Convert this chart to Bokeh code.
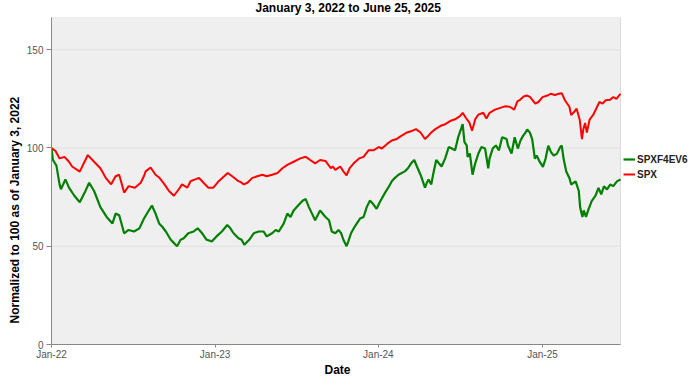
import pandas as pd
from bokeh.plotting import figure
from bokeh.models import (Range1d, FixedTicker, DatetimeTickFormatter, Legend, LegendItem,
                          ColumnDataSource, Title, BoxAnnotation)
from bokeh.embed import file_html
from bokeh.resources import INLINE

chart_title = "January 3, 2022 to June 25, 2025"
x_label = "Date"
y_label = "Normalized to 100 as of January 3, 2022"
series_names = ["SPXF4EV6", "SPX"]

spx_dates = [
    "2022-01-03", "2022-01-12", "2022-01-21", "2022-02-01", "2022-02-11", "2022-02-18",
    "2022-03-07", "2022-03-25", "2022-04-08", "2022-04-22", "2022-05-04", "2022-05-16",
    "2022-05-26", "2022-06-03", "2022-06-14", "2022-06-24", "2022-07-08", "2022-07-21",
    "2022-07-28", "2022-08-01", "2022-08-12", "2022-08-23", "2022-08-31", "2022-09-12",
    "2022-09-22", "2022-10-03", "2022-10-14", "2022-10-21", "2022-11-02", "2022-11-09",
    "2022-11-18", "2022-11-28", "2022-12-08", "2022-12-19", "2022-12-30", "2023-01-11",
    "2023-01-23", "2023-01-31", "2023-02-10", "2023-02-24", "2023-03-01", "2023-03-08",
    "2023-03-16", "2023-03-27", "2023-04-07", "2023-04-18", "2023-04-28", "2023-05-10",
    "2023-05-22", "2023-06-02", "2023-06-13", "2023-06-27", "2023-07-12", "2023-07-24",
    "2023-08-03", "2023-08-14", "2023-08-25", "2023-09-06", "2023-09-18", "2023-09-22",
    "2023-09-28", "2023-10-09", "2023-10-16", "2023-10-23", "2023-10-30", "2023-11-08",
    "2023-11-20", "2023-11-30", "2023-12-11", "2023-12-22", "2024-01-03", "2024-01-10",
    "2024-01-22", "2024-02-01", "2024-02-12", "2024-02-23", "2024-03-06", "2024-03-18",
    "2024-03-26", "2024-04-05", "2024-04-15", "2024-04-23", "2024-04-29", "2024-05-08",
    "2024-05-20", "2024-05-30", "2024-06-10", "2024-06-21", "2024-07-02", "2024-07-08",
    "2024-07-15", "2024-07-23", "2024-07-29", "2024-08-05", "2024-08-12", "2024-08-23",
    "2024-08-30", "2024-09-06", "2024-09-18", "2024-09-30", "2024-10-10", "2024-10-21",
    "2024-10-31", "2024-11-07", "2024-11-13", "2024-11-21", "2024-11-28", "2024-12-05",
    "2024-12-17", "2024-12-24", "2025-01-02", "2025-01-13", "2025-01-20", "2025-01-30",
    "2025-02-07", "2025-02-14", "2025-02-21", "2025-03-03", "2025-03-07", "2025-03-14",
    "2025-03-19", "2025-03-26", "2025-03-31", "2025-04-03", "2025-04-07", "2025-04-11",
    "2025-04-17", "2025-04-25", "2025-05-02", "2025-05-09", "2025-05-16", "2025-05-23",
    "2025-06-02", "2025-06-09", "2025-06-16", "2025-06-25",
]
spx_values = [
    100.0, 98.5, 94.7, 95.5, 93.0, 90.6,
    88.0, 96.4, 93.0, 89.7, 84.8, 81.5,
    85.6, 86.4, 77.3, 80.6, 79.8, 82.3,
    85.6, 88.1, 90.1, 86.4, 85.0, 81.5,
    78.1, 75.7, 79.0, 81.5, 79.8, 83.1,
    83.9, 84.8, 82.3, 79.8, 79.8, 83.1,
    85.6, 87.3, 85.6, 83.1, 82.6, 81.5,
    82.3, 84.8, 85.6, 86.4, 85.6, 86.4,
    87.3, 89.7, 91.4, 93.0, 94.7, 95.5,
    93.9, 92.2, 93.9, 93.4, 89.7, 90.6,
    88.9, 90.6, 88.1, 86.1, 89.7, 92.2,
    94.7, 95.5, 98.8, 98.8, 100.5, 99.7,
    102.2, 103.8, 104.6, 106.3, 107.9, 108.8,
    109.6, 107.9, 104.6, 106.3, 107.9, 109.6,
    111.3, 112.1, 113.7, 114.6, 116.2, 117.9,
    115.4, 112.9, 108.8, 114.6, 117.0, 117.9,
    115.0, 117.9, 119.5, 120.4, 121.2, 121.0,
    119.5, 123.7, 124.5, 126.2, 126.7, 126.0,
    122.6, 123.4, 125.9, 126.7, 127.6, 127.0,
    127.6, 127.9, 124.3, 121.0, 116.8, 118.4,
    120.1, 114.4, 104.5, 109.4, 112.7, 107.8,
    114.4, 116.8, 120.1, 123.4, 122.6, 124.3,
    124.6, 125.9, 125.0, 127.6,
]

f4_dates = [
    "2022-01-03", "2022-01-06", "2022-01-10", "2022-01-14", "2022-01-21", "2022-01-24",
    "2022-02-03", "2022-02-11", "2022-02-23", "2022-03-07", "2022-03-18", "2022-03-28",
    "2022-04-08", "2022-04-22", "2022-05-06", "2022-05-19", "2022-05-26", "2022-06-03",
    "2022-06-14", "2022-06-24", "2022-07-06", "2022-07-18", "2022-07-28", "2022-08-08",
    "2022-08-15", "2022-08-23", "2022-08-31", "2022-09-07", "2022-09-15", "2022-09-26",
    "2022-10-03", "2022-10-10", "2022-10-18", "2022-10-25", "2022-11-04", "2022-11-16",
    "2022-11-25", "2022-12-05", "2022-12-15", "2022-12-27", "2023-01-06", "2023-01-18",
    "2023-01-30", "2023-02-06", "2023-02-13", "2023-02-24", "2023-03-03", "2023-03-09",
    "2023-03-20", "2023-03-30", "2023-04-10", "2023-04-21", "2023-04-28", "2023-05-10",
    "2023-05-18", "2023-05-25", "2023-06-05", "2023-06-13", "2023-06-20", "2023-06-27",
    "2023-07-07", "2023-07-17", "2023-07-24", "2023-07-31", "2023-08-07", "2023-08-14",
    "2023-08-25", "2023-09-06", "2023-09-14", "2023-09-20", "2023-09-28", "2023-10-05",
    "2023-10-11", "2023-10-16", "2023-10-23", "2023-10-27", "2023-11-02", "2023-11-10",
    "2023-11-22", "2023-11-30", "2023-12-07", "2023-12-14", "2023-12-21", "2023-12-29",
    "2024-01-05", "2024-01-17", "2024-01-24", "2024-02-01", "2024-02-08", "2024-02-16",
    "2024-02-23", "2024-03-01", "2024-03-08", "2024-03-15", "2024-03-22", "2024-03-28",
    "2024-04-05", "2024-04-15", "2024-04-19", "2024-04-23", "2024-04-29", "2024-05-03",
    "2024-05-10", "2024-05-16", "2024-05-22", "2024-05-30", "2024-06-07", "2024-06-14",
    "2024-06-21", "2024-06-28", "2024-07-03", "2024-07-08", "2024-07-12", "2024-07-17",
    "2024-07-19", "2024-07-24", "2024-07-30", "2024-08-05", "2024-08-12", "2024-08-19",
    "2024-08-27", "2024-09-03", "2024-09-06", "2024-09-13", "2024-09-20", "2024-09-27",
    "2024-10-04", "2024-10-14", "2024-10-17", "2024-10-25", "2024-11-01", "2024-11-08",
    "2024-11-14", "2024-11-20", "2024-11-25", "2024-11-29", "2024-12-05", "2024-12-10",
    "2024-12-16", "2024-12-20", "2024-12-27", "2025-01-03", "2025-01-09", "2025-01-15",
    "2025-01-21", "2025-01-27", "2025-02-03", "2025-02-10", "2025-02-14", "2025-02-18",
    "2025-02-24", "2025-03-03", "2025-03-07", "2025-03-12", "2025-03-17", "2025-03-24",
    "2025-03-27", "2025-04-01", "2025-04-04", "2025-04-09", "2025-04-15", "2025-04-22",
    "2025-04-30", "2025-05-07", "2025-05-13", "2025-05-19", "2025-05-26", "2025-06-02",
    "2025-06-09", "2025-06-17", "2025-06-25",
]
f4_values = [
    100.0, 94.0, 92.5, 91.0, 81.5, 79.0,
    84.0, 79.8, 75.7, 72.4, 77.3, 82.3,
    78.1, 69.9, 64.9, 61.6, 66.6, 65.8,
    56.6, 58.3, 57.5, 59.1, 64.0, 68.2,
    70.7, 66.6, 61.6, 59.9, 57.5, 53.3,
    51.7, 50.0, 53.3, 54.1, 56.6, 57.5,
    59.1, 56.6, 53.3, 52.5, 55.0, 57.5,
    60.8, 59.1, 56.6, 54.1, 53.3, 50.8,
    53.3, 56.6, 57.5, 57.5, 55.0, 56.6,
    58.3, 57.5, 61.6, 66.6, 64.9, 68.2,
    70.7, 73.2, 74.0, 69.9, 66.6, 63.2,
    68.2, 64.9, 63.2, 57.5, 56.6, 58.3,
    56.6, 53.3, 50.0, 52.5, 56.6, 59.9,
    64.1, 64.9, 69.9, 73.2, 71.6, 69.0,
    72.4, 77.3, 79.8, 83.1, 84.8, 86.4,
    87.3, 88.1, 89.7, 92.2, 93.9, 90.6,
    86.4, 79.8, 82.3, 83.9, 81.5, 86.4,
    93.9, 92.2, 90.6, 94.7, 100.5, 99.7,
    98.8, 105.5, 108.8, 112.1, 103.0, 101.3,
    95.5, 97.2, 86.4, 92.2, 97.2, 100.5,
    99.7, 89.7, 94.7, 99.7, 101.3, 98.8,
    105.5, 104.6, 101.3, 97.2, 105.5, 99.7,
    103.8, 106.3, 107.8, 109.4, 107.8, 104.5,
    94.6, 96.2, 92.9, 90.4, 94.6, 101.2,
    97.9, 96.2, 97.0, 100.3, 101.2, 94.6,
    88.0, 84.7, 81.4, 82.2, 83.0, 78.1,
    69.8, 64.9, 68.2, 64.9, 69.0, 73.1,
    75.6, 79.7, 76.4, 80.5, 78.9, 81.4,
    80.6, 83.0, 84.0,
]

x_tick_dates = ["2022-01-03", "2023-01-03", "2024-01-02", "2025-01-02"]
y_tick_values = [0, 50, 100, 150]
x_start, x_end = "2022-01-03", "2025-06-25"
y_start, y_end = 0, 166.4

FONT = "Liberation Sans"
W, H = 692, 378
LEFT, TOP, BOTTOM = 51, 15, 28
PLOT_W = 569          # width of the grey plotting area in px
LEGEND_W = W - LEFT - PLOT_W  # space kept to the right for the legend

t0, t1 = pd.Timestamp(x_start), pd.Timestamp(x_end)
# extend the visible range so that the grey plotting area ends where the legend begins
t_pad = t1 + (t1 - t0) * (LEGEND_W / PLOT_W)

src_spx = ColumnDataSource(dict(date=pd.to_datetime(spx_dates), value=spx_values))
src_f4 = ColumnDataSource(dict(date=pd.to_datetime(f4_dates), value=f4_values))

p = figure(
    width=W, height=H, x_axis_type="datetime",
    output_backend="svg", toolbar_location=None,
    x_range=Range1d(t0, t_pad), y_range=Range1d(y_start, y_end),
    min_border_left=LEFT, min_border_right=0, min_border_top=TOP, min_border_bottom=BOTTOM,
)

p.border_fill_color = "white"
p.background_fill_color = "white"
p.outline_line_color = None
p.xgrid.grid_line_color = None
p.ygrid.grid_line_color = None

# grey plotting area with its border
p.add_layout(BoxAnnotation(left=t0, right=t1, bottom=y_start, top=y_end,
                           fill_color="#efefef", fill_alpha=1,
                           line_color="#9a9a9a", line_width=1, level="underlay"))

# horizontal grid lines, only across the plotting area
grid_y = y_tick_values[1:]
p.segment(x0=[t0] * len(grid_y), x1=[t1] * len(grid_y), y0=grid_y, y1=grid_y,
          line_color="#e0e0e0", line_width=1)

# title, centred on the whole picture
title = Title(text=chart_title, align="left", offset=204, standoff=1, vertical_align="top",
              text_font=FONT, text_font_size="12px", text_font_style="bold", text_color="black")
p.add_layout(title, "above")

for ax in (p.xaxis[0], p.yaxis[0]):
    ax.axis_line_color = "#888888"
    ax.major_tick_line_color = "#888888"
    ax.minor_tick_line_color = None
    ax.major_tick_in = 0
    ax.major_label_text_font = FONT
    ax.major_label_text_font_size = "10px"
    ax.major_label_text_color = "#555555"

p.xaxis.bounds = (t0, t1)
p.xaxis.ticker = FixedTicker(ticks=[pd.Timestamp(d).value // 10**6 for d in x_tick_dates])
p.xaxis.formatter = DatetimeTickFormatter(
    days="%b-%y", months="%b-%y", years="%b-%y", hours="%b-%y", minutes="%b-%y")
p.xaxis.major_tick_out = 3
p.xaxis.major_label_standoff = 1

p.yaxis.ticker = FixedTicker(ticks=y_tick_values)
p.yaxis.major_tick_out = 5
p.yaxis.major_label_standoff = 3

# axis captions as side titles, so that they sit where the reference puts them
x_title = Title(
    text=x_label, align="left", offset=273, standoff=0, vertical_align="top",
    text_font=FONT, text_font_size="12px", text_font_style="bold", text_color="black",
)
p.add_layout(x_title, "below")

y_title = Title(
    text=y_label, align="left", offset=21, standoff=4,
    text_font=FONT, text_font_size="12px", text_font_style="bold", text_color="black",
)
p.add_layout(y_title, "left")

r_f4 = p.line("date", "value", source=src_f4, line_color="#008000", line_width=2.2)
r_spx = p.line("date", "value", source=src_spx, line_color="#ff0000", line_width=2)

legend = Legend(
    items=[LegendItem(label=series_names[0], renderers=[r_f4]),
           LegendItem(label=series_names[1], renderers=[r_spx])],
    location=(PLOT_W + 3, 163),
    orientation="vertical",
    background_fill_alpha=0, border_line_color=None,
    padding=0, margin=0, spacing=1,
    glyph_width=12, glyph_height=14, label_height=14,
    label_standoff=2,
    label_text_font=FONT, label_text_font_size="10px",
    label_text_font_style="bold", label_text_color="#222222",
)
p.add_layout(legend, "center")

open("out.html", "w").write(file_html(p, INLINE))
